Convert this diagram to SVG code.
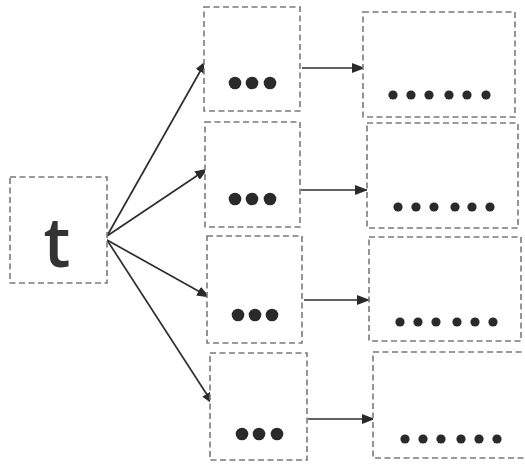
<svg xmlns="http://www.w3.org/2000/svg" width="525" height="467" viewBox="0 0 525 467">
<defs>
<marker id="ah" markerWidth="13" markerHeight="10" refX="12" refY="5" orient="auto" markerUnits="userSpaceOnUse">
<path d="M0,0 L13,5 L0,10 Z" fill="#2a2a2a"/>
</marker>
<style>
.box{fill:#fff;stroke:#7a7a7a;stroke-width:1.6;stroke-dasharray:6 3.5}
.big{fill:#2a2a2a}
.sm{fill:#2a2a2a}
.con{stroke:#2e2e2e;stroke-width:1.7;fill:none;marker-end:url(#ah)}
.t{font-family:"Open Sans","Liberation Sans",sans-serif;font-size:68px;font-weight:600;fill:#333}
</style>
</defs>
<rect width="525" height="467" fill="#fff"/>
<g id="connectors">
<line class="con" x1="107" y1="236" x2="206" y2="61"/>
<line class="con" x1="107" y1="236" x2="207" y2="169"/>
<line class="con" x1="107" y1="240" x2="209" y2="297"/>
<line class="con" x1="107" y1="240" x2="213" y2="404"/>
<line class="con" x1="302" y1="68" x2="364" y2="68"/>
<line class="con" x1="301" y1="190" x2="367" y2="190"/>
<line class="con" x1="304" y1="300" x2="369" y2="300"/>
<line class="con" x1="308" y1="419" x2="374" y2="419"/>
</g>
<g id="t-node">
<rect class="box" x="10" y="177" width="97" height="106"/>
<text class="t" x="57" y="267" text-anchor="middle">t</text>
</g>
<g id="m1">
<rect class="box" x="204" y="7" width="96" height="104"/>
<circle class="big" cx="235" cy="83" r="6.3"/><circle class="big" cx="252" cy="83" r="6.3"/><circle class="big" cx="270" cy="83" r="6.3"/>
</g>
<g id="m2">
<rect class="box" x="205" y="122" width="95" height="105"/>
<circle class="big" cx="235" cy="199" r="6.3"/><circle class="big" cx="252" cy="199" r="6.3"/><circle class="big" cx="270" cy="199" r="6.3"/>
</g>
<g id="m3">
<rect class="box" x="207" y="236" width="95" height="107"/>
<circle class="big" cx="238" cy="315" r="6.3"/><circle class="big" cx="255" cy="315" r="6.3"/><circle class="big" cx="272" cy="315" r="6.3"/>
</g>
<g id="m4">
<rect class="box" x="210" y="353" width="97" height="107"/>
<circle class="big" cx="242" cy="434" r="6.3"/><circle class="big" cx="259" cy="434" r="6.3"/><circle class="big" cx="277" cy="434" r="6.3"/>
</g>
<g id="r1">
<rect class="box" x="363" y="12" width="152" height="105"/>
<circle class="sm" cx="393" cy="95" r="4.6"/><circle class="sm" cx="411" cy="95" r="4.6"/><circle class="sm" cx="429" cy="95" r="4.6"/><circle class="sm" cx="449" cy="95" r="4.6"/><circle class="sm" cx="467" cy="95" r="4.6"/><circle class="sm" cx="486" cy="95" r="4.6"/>
</g>
<g id="r2">
<rect class="box" x="367" y="123" width="151" height="105"/>
<circle class="sm" cx="398" cy="207" r="4.6"/><circle class="sm" cx="416" cy="207" r="4.6"/><circle class="sm" cx="434" cy="207" r="4.6"/><circle class="sm" cx="455" cy="207" r="4.6"/><circle class="sm" cx="472" cy="207" r="4.6"/><circle class="sm" cx="490" cy="207" r="4.6"/>
</g>
<g id="r3">
<rect class="box" x="369" y="237" width="152" height="104"/>
<circle class="sm" cx="400" cy="322" r="4.6"/><circle class="sm" cx="418" cy="322" r="4.6"/><circle class="sm" cx="436" cy="322" r="4.6"/><circle class="sm" cx="457" cy="322" r="4.6"/><circle class="sm" cx="475" cy="322" r="4.6"/><circle class="sm" cx="493" cy="322" r="4.6"/>
</g>
<g id="r4">
<rect class="box" x="373" y="352" width="160" height="106"/>
<circle class="sm" cx="405" cy="439" r="4.6"/><circle class="sm" cx="423" cy="439" r="4.6"/><circle class="sm" cx="441" cy="439" r="4.6"/><circle class="sm" cx="461" cy="439" r="4.6"/><circle class="sm" cx="479" cy="439" r="4.6"/><circle class="sm" cx="497" cy="439" r="4.6"/>
</g>
</svg>
